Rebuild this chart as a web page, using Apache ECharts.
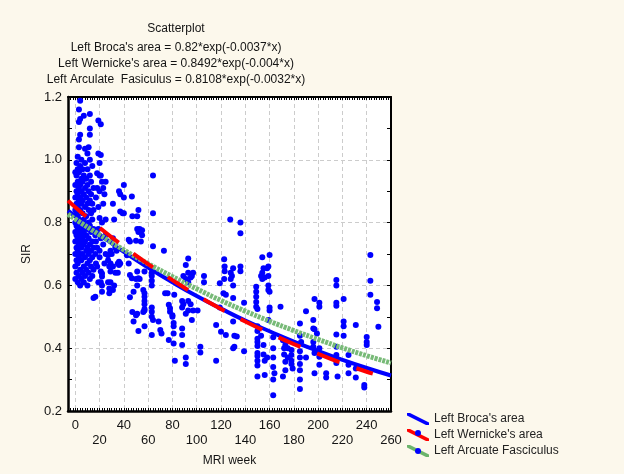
<!DOCTYPE html>
<html>
<head>
<meta charset="utf-8">
<script src="https://cdn.jsdelivr.net/npm/echarts@6/dist/echarts.min.js"></script>
<style>
  html, body { margin: 0; padding: 0; background: #fcf8ec; }
  #chart { width: 624px; height: 474px; }
</style>
</head>
<body>
<div id="chart"></div>
<script>
// ---------------- data ----------------
var xTicks = [0, 20, 40, 60, 80, 100, 120, 140, 160, 180, 200, 220, 240, 260];

// fitted curves, sampled along the week axis
var fitWeeks = [-6, 0, 20, 40, 60, 80, 100, 120, 140, 160, 180, 200, 220, 240, 260];
var brocaFit = [0.838, 0.820, 0.762, 0.707, 0.657, 0.610, 0.566, 0.526, 0.488, 0.454, 0.421, 0.391, 0.363, 0.337, 0.313];
var wernickeWeeks = [-6, 0, 20, 40, 60, 80, 100, 120, 140, 160, 180, 200, 220, 240, 245];
var wernickeFit = [0.870, 0.849, 0.784, 0.724, 0.668, 0.617, 0.569, 0.525, 0.485, 0.448, 0.413, 0.382, 0.352, 0.325, 0.319];
var arcuateFit = [0.827, 0.811, 0.761, 0.713, 0.669, 0.628, 0.589, 0.552, 0.518, 0.486, 0.456, 0.428, 0.401, 0.376, 0.353];

// scatter points: week -> list of SIR values at that week
var pointCols = [
    [0, [0.62, 0.66, 0.70, 0.74, 0.77, 0.80, 0.84, 0.88, 0.92, 0.96]],
    [1, [0.64, 0.68, 0.72, 0.76, 0.79, 0.83, 0.86, 0.90, 0.95, 0.99]],
    [2, [0.61, 0.67, 0.71, 0.75, 0.78, 0.82, 0.85, 0.89, 0.93, 0.97, 1.01]],
    [3, [0.63, 0.69, 0.73, 0.77, 0.81, 0.87, 0.91, 0.96, 1.04, 1.065, 1.12, 1.16]],
    [4, [0.60, 0.65, 0.70, 0.74, 0.79, 0.84, 0.88, 0.92, 0.98, 1.08, 1.13, 1.188]],
    [5, [0.62, 0.68, 0.72, 0.76, 0.80, 0.86, 0.90, 0.94, 1.00]],
    [6, [0.64, 0.70, 0.75, 0.78, 0.83, 0.87, 0.93, 0.97]],
    [7, [0.61, 0.66, 0.73, 0.77, 0.81, 0.89, 0.95, 1.14]],
    [8, [0.63, 0.69, 0.74, 0.79, 0.85, 0.91, 0.99, 1.035]],
    [9, [0.65, 0.71, 0.76, 0.82, 0.88, 0.94]],
    [10, [0.60, 0.67, 0.72, 0.78, 0.86, 0.92, 0.97, 1.02]],
    [11, [0.64, 0.70, 0.75, 0.80, 0.84, 0.90, 1.04]],
    [12, [0.62, 0.68, 0.73, 0.79, 0.87, 0.95, 1.00, 1.08, 1.10, 1.146]],
    [13, [0.66, 0.71, 0.77, 0.83, 0.89, 0.93]],
    [14, [0.63, 0.69, 0.74, 0.81, 0.86, 0.98]],
    [15, [0.56, 0.65, 0.72, 0.78, 0.84, 0.91]],
    [16.5, [0.564, 0.70, 0.76]],
    [17, [0.67, 0.74, 0.88]],
    [18, [0.957, 0.91, 0.66, 0.72]],
    [19, [1.125, 1.02, 0.61, 0.78, 0.85]],
    [20, [0.99, 0.95, 0.815, 0.71, 0.90, 0.69]],
    [21, [1.113, 1.015, 0.95, 0.644, 0.61, 0.75]],
    [22, [0.93, 0.638, 0.628, 0.60, 0.58, 0.80]],
    [23, [0.86, 0.91, 0.73]],
    [24, [0.89, 0.67]],
    [25, [0.93, 0.81, 0.70, 0.76]],
    [27, [0.696, 0.61, 0.68]],
    [28, [0.575, 0.59, 0.66]],
    [29, [0.71, 0.644, 0.61, 0.67]],
    [30, [0.70, 0.66]],
    [31, [0.86, 0.75, 0.66, 0.585]],
    [32, [0.81, 0.60]],
    [33, [0.72, 0.64]],
    [34, [0.71]],
    [35, [0.67, 0.64]],
    [36, [0.90, 0.675, 0.665]],
    [37, [0.835, 0.89, 0.67]],
    [39, [0.83]],
    [40, [0.92, 0.88, 0.83]],
    [42.5, [0.696]],
    [44, [0.745, 0.67]],
    [45, [0.74, 0.633, 0.562]],
    [46.6, [0.883, 0.623]],
    [47, [0.82, 0.515]],
    [48, [0.58, 0.485]],
    [50, [0.742, 0.62, 0.505]],
    [51, [0.82, 0.78, 0.60, 0.644, 0.51]],
    [52, [0.84, 0.77, 0.623, 0.455]],
    [53, [0.78, 0.62]],
    [54, [0.74]],
    [55, [0.776, 0.76]],
    [56, [0.585, 0.515]],
    [57, [0.644, 0.575, 0.564, 0.55, 0.54, 0.525, 0.52, 0.47]],
    [63, [0.64, 0.63, 0.615, 0.60, 0.53, 0.516, 0.50, 0.442]],
    [64, [0.95, 0.83, 0.725, 0.49]],
    [68.6, [0.485]],
    [70, [0.458]],
    [71, [0.447]],
    [73, [0.71]],
    [74, [0.575]],
    [76, [0.575]],
    [77, [0.538, 0.426]],
    [78, [0.527, 0.516]],
    [80, [0.505, 0.50]],
    [81, [0.48, 0.47, 0.447, 0.415]],
    [81.5, [0.57]],
    [82, [0.36]],
    [88, [0.55, 0.53, 0.463, 0.442, 0.41]],
    [89, [0.63, 0.54]],
    [91, [0.665, 0.62, 0.51, 0.37, 0.35]],
    [93, [0.686, 0.64, 0.61, 0.55, 0.52]],
    [95, [0.625, 0.54]],
    [96, [0.49, 0.63]],
    [97, [0.52, 0.64]],
    [100.7, [0.52]],
    [103, [0.405, 0.386]],
    [106, [0.63, 0.61]],
    [116, [0.474, 0.36]],
    [119, [0.607, 0.53]],
    [120, [0.452]],
    [122, [0.575]],
    [122.6, [0.683, 0.62]],
    [123, [0.645, 0.66]],
    [124, [0.442, 0.57]],
    [127.6, [0.81]],
    [128, [0.64, 0.62]],
    [129, [0.63]],
    [130, [0.60, 0.56, 0.485, 0.40, 0.655]],
    [131, [0.405, 0.44]],
    [133, [0.437]],
    [136, [0.80, 0.766, 0.645, 0.66]],
    [139, [0.545, 0.39]],
    [149, [0.596, 0.58, 0.564, 0.547, 0.532]],
    [150, [0.525, 0.47, 0.455, 0.43, 0.42, 0.407, 0.385, 0.375, 0.36, 0.345, 0.31]],
    [153, [0.63, 0.44]],
    [154, [0.69, 0.64, 0.62]],
    [155, [0.655, 0.41, 0.38]],
    [156, [0.36, 0.315, 0.625]],
    [158, [0.37, 0.655]],
    [159, [0.66, 0.63, 0.60, 0.585, 0.49]],
    [160, [0.697, 0.58, 0.52, 0.53]],
    [163, [0.435, 0.40, 0.37, 0.34, 0.30, 0.25]],
    [164, [0.32]],
    [169, [0.532]],
    [171, [0.425, 0.31]],
    [172, [0.40, 0.38]],
    [173, [0.41, 0.357, 0.33]],
    [175, [0.40, 0.37]],
    [178, [0.394, 0.378, 0.36, 0.35]],
    [179, [0.335]],
    [185, [0.479, 0.44, 0.39, 0.37, 0.35, 0.33, 0.30, 0.27]],
    [186, [0.42]],
    [190, [0.518, 0.37]],
    [196, [0.49, 0.463, 0.42, 0.405]],
    [197, [0.557, 0.46, 0.385, 0.32]],
    [199, [0.447]],
    [201, [0.40, 0.545, 0.532, 0.373, 0.347]],
    [206.6, [0.32, 0.307]],
    [215, [0.617, 0.60, 0.545, 0.535, 0.444, 0.405, 0.378, 0.353]],
    [216, [0.31]],
    [221, [0.557, 0.485, 0.47, 0.44]],
    [225, [0.378, 0.347, 0.32]],
    [231, [0.474, 0.335, 0.307]],
    [238, [0.283, 0.275]],
    [240, [0.436, 0.42, 0.41]],
    [243, [0.697, 0.615, 0.57]],
    [248.5, [0.547, 0.527]],
    [249.6, [0.468]]
];

var points = [];
pointCols.forEach(function (c) {
    c[1].forEach(function (v) { points.push([c[0], v]); });
});

function pairs(xs, ys) {
    return xs.map(function (x, i) { return [x, ys[i]]; });
}

// ---------------- chart ----------------
var chart = echarts.init(document.getElementById('chart'));
var font = 'Liberation Sans, Arial, sans-serif';
var ink = '#141414';
var slash = 'path://M0,0 L3,0 L22,9.5 L22,12 L19,12 L0,2.5 Z';

var option = {
    backgroundColor: '#fcf8ec',
    animation: false,
    title: {
        text: 'Scatterplot',
        subtext: "Left Broca's area = 0.82*exp(-0.0037*x)\nLeft Wernicke's area = 0.8492*exp(-0.004*x)\nLeft Arculate  Fasiculus = 0.8108*exp(-0.0032*x)",
        left: 171,
        textAlign: 'center',
        top: 17,
        itemGap: 4,
        textStyle: { fontFamily: font, fontSize: 12, fontWeight: 'normal', color: ink, lineHeight: 14 },
        subtextStyle: { fontFamily: font, fontSize: 12, color: ink, lineHeight: 16 }
    },
    legend: {
        orient: 'vertical',
        left: 407,
        top: 413,
        itemWidth: 22,
        itemHeight: 12,
        itemGap: 4,
        padding: 0,
        textStyle: { fontFamily: font, fontSize: 12, color: '#222' },
        data: [
            { name: "Left Broca's area", icon: slash },
            { name: "Left Wernicke's area", icon: slash },
            { name: 'Left Arcuate Fasciculus', icon: slash }
        ]
    },
    grid: {
        left: 68, right: 233, top: 97, bottom: 63,
        show: true, backgroundColor: '#ffffff', borderWidth: 0
    },
    xAxis: [
        {
            type: 'value', min: -6, max: 260, interval: 2,
            name: 'MRI week', nameLocation: 'middle', nameGap: 44,
            nameTextStyle: { fontFamily: font, fontSize: 12, color: ink },
            axisLine: { onZero: false, lineStyle: { color: '#000', width: 2.5 } },
            axisTick: { inside: true, length: 3, lineStyle: { color: '#000', width: 1 } },
            axisLabel: {
                margin: 7, lineHeight: 15,
                fontFamily: font, fontSize: 13, color: ink,
                formatter: function (v) {
                    var r = Math.round(v);
                    if (r % 20 !== 0 || r < 0) return '';
                    return r % 40 === 20 ? '\n' + r : '' + r;
                }
            },
            splitLine: { show: false }
        },
        {
            type: 'value', min: -6, max: 260, interval: 2, position: 'top',
            axisLine: { onZero: false, lineStyle: { color: '#000', width: 2 } },
            axisTick: { inside: true, length: 3, lineStyle: { color: '#000', width: 1 } },
            axisLabel: { show: false },
            splitLine: { show: false }
        },
        {
            // dashed grid at every 20 weeks
            type: 'value', min: -6, max: 260, position: 'bottom',
            axisLine: { show: false },
            axisTick: { show: false, customValues: xTicks },
            axisLabel: { show: false },
            splitLine: { show: true, lineStyle: { color: '#cccccc', type: [4, 3], width: 1 } }
        }
    ],
    yAxis: [
        {
            type: 'value', min: 0.2, max: 1.2, interval: 0.2,
            name: 'SIR', nameLocation: 'middle', nameGap: 23,
            nameTextStyle: { fontFamily: font, fontSize: 12, color: ink },
            axisLine: { show: true, onZero: false, lineStyle: { color: '#000', width: 2.5 } },
            axisTick: { show: true, inside: true, length: 4, lineStyle: { color: '#000', width: 1 } },
            minorTick: { show: true, splitNumber: 2, length: 4, lineStyle: { color: '#000', width: 1 } },
            axisLabel: {
                margin: 6, fontFamily: font, fontSize: 13, color: ink,
                formatter: function (v) { return v.toFixed(1); }
            },
            splitLine: { show: true, lineStyle: { color: '#cccccc', type: [4, 3], width: 1 } }
        },
        {
            type: 'value', min: 0.2, max: 1.2, interval: 0.1, position: 'right',
            axisLine: { show: true, onZero: false, lineStyle: { color: '#000', width: 2 } },
            axisTick: { show: true, inside: true, length: 4, lineStyle: { color: '#000', width: 1 } },
            axisLabel: { show: false },
            splitLine: { show: false }
        }
    ],
    series: [
        {
            name: 'points',
            type: 'scatter',
            data: points,
            symbol: 'circle',
            symbolSize: 6,
            itemStyle: { color: '#0000ff', opacity: 1 },
            z: 2
        },
        {
            name: "Left Broca's area",
            type: 'line',
            data: pairs(fitWeeks, brocaFit),
            smooth: true, showSymbol: false,
            color: '#0000ff',
            lineStyle: { color: '#0000ff', width: 4 },
            z: 3
        },
        {
            name: 'Left Arcuate Fasciculus',
            type: 'line',
            data: pairs(fitWeeks, arcuateFit),
            smooth: true, showSymbol: false,
            color: '#6cb46c',
            lineStyle: { color: '#78ba78', width: 5, type: [3, 1] },
            z: 4
        },
        {
            name: "Left Wernicke's area",
            type: 'line',
            data: pairs(wernickeWeeks, wernickeFit),
            smooth: true, showSymbol: false,
            color: '#ff0000',
            lineStyle: { color: '#ff0000', width: 4, type: [24, 18] },
            z: 5
        }
    ],
    graphic: [
        { type: 'circle', left: 415, top: 430, shape: { r: 3 }, style: { fill: '#0000ff' }, z: 100 },
        { type: 'circle', left: 415, top: 448, shape: { r: 3 }, style: { fill: '#0000ff' }, z: 100 }
    ]
};

chart.setOption(option);
window.addEventListener('resize', function () {
    chart.resize();
});
</script>
</body>
</html>
